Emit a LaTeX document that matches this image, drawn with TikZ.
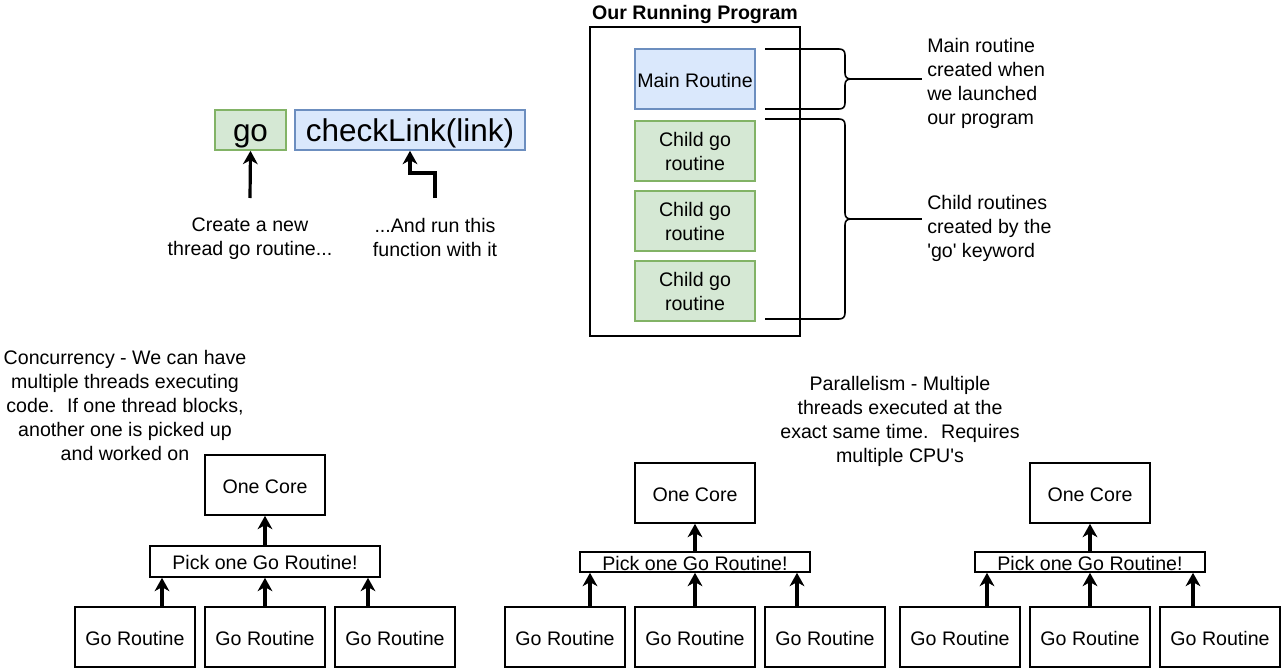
\documentclass[tikz,border=0pt]{standalone}
\usepackage{fontspec}
\setmainfont{Liberation Sans}
\usetikzlibrary{arrows.meta,calc}

\definecolor{gofill}{HTML}{D5E8D4}
\definecolor{godraw}{HTML}{82B366}
\definecolor{fnfill}{HTML}{DAE8FC}
\definecolor{fndraw}{HTML}{6C8EBF}

\begin{document}
\begin{tikzpicture}[x=0.75pt,y=-0.75pt,
    font=\fontsize{14.7}{18}\selectfont,
    box/.style={draw=black,line width=1.2pt,minimum width=90pt,minimum height=45pt,inner sep=0pt,align=center},
    oneline/.style={text height=16.6pt,text depth=4pt},
    bigline/.style={text height=23.6pt,text depth=6pt,font=\fontsize{23.6}{28}\selectfont},
    gobox/.style={box,fill=gofill,draw=godraw},
    fnbox/.style={box,fill=fnfill,draw=fndraw},
    pickbox/.style={draw=black,line width=1.2pt,minimum width=172.5pt,inner sep=0pt,oneline},
    note/.style={align=center,inner sep=0pt},
    arr/.style={-{Stealth[length=10pt,width=11pt,inset=3pt]},line width=2.4pt},
    brace/.style={line width=1.2pt}]

    \useasboundingbox (0,0) rectangle (1282,668);

    % go checkLink(link)
    \node[gobox,bigline,minimum width=53.25pt,minimum height=30pt] (go) at (250.5,130) {go};
    \node[fnbox,bigline,minimum width=172.5pt,minimum height=30pt] (check) at (410,130) {checkLink(link)};

    \node[note] (createnote) at (250,239) {Create a new\\thread go routine...};
    \node[note] (runnote) at (435,237) {...And run this\\function with it};
    \coordinate (gotail) at (250,198);
    \coordinate (runtail) at (435,198);

    \draw[arr] (gotail) -- (go.south);
    \draw[arr] (runtail) -- ++(0,-25) -| (check.south);

    % our running program
    \node[note,font=\fontsize{14.7}{18}\selectfont\bfseries] (title) at (695,14) {Our Running Program};
    \node[draw=black,line width=1.2pt,minimum width=157.5pt,minimum height=231.75pt,inner sep=0pt] (program) at (695,181.5) {};

    \node[fnbox,oneline] (main) at (695,79) {Main Routine};
    \node[gobox] (childa) at (695,151) {Child go\\routine};
    \node[gobox] (childb) at (695,221) {Child go\\routine};
    \node[gobox] (childc) at (695,291) {Child go\\routine};

    \node[anchor=west,align=left,inner sep=0pt] (mainnote) at (927,83) {Main routine\\created when\\we launched\\our program};
    \node[anchor=west,align=left,inner sep=0pt] (childnote) at (927,228) {Child routines\\created by the\\\textquotesingle go\textquotesingle{} keyword};

    \coordinate (maintip) at (851,79);
    \coordinate (childtip) at (851,219);
    \draw[brace] (765,49) -- (839,49) .. controls (843,49) and (845,51) .. (845,55)
        -- (845,73) .. controls (845,77) and (847,79) .. (maintip)
        .. controls (847,79) and (845,81) .. (845,85)
        -- (845,103) .. controls (845,107) and (843,109) .. (839,109) -- (765,109);
    \draw[brace] (765,119) -- (839,119) .. controls (843,119) and (845,121) .. (845,125)
        -- (845,213) .. controls (845,217) and (847,219) .. (childtip)
        .. controls (847,219) and (845,221) .. (845,225)
        -- (845,313) .. controls (845,317) and (843,319) .. (839,319) -- (765,319);
    \draw[brace,shorten >=3.5pt] (maintip) -- (maintip -| mainnote.west);
    \draw[brace,shorten >=3.5pt] (childtip) -- (childtip -| childnote.west);

    % concurrency
    \node[note] (concnote) at (125,405) {Concurrency - We can have\\multiple threads executing\\code.~ If one thread blocks,\\another one is picked up\\and worked on};
    \node[box,oneline] (core) at (265,485) {One Core};
    \node[pickbox,minimum height=23.25pt] (pick) at (265,561.5) {Pick one Go Routine!};
    \node[box,oneline] (ga) at (135,637) {Go Routine};
    \node[box,oneline] (gb) at (265,637) {Go Routine};
    \node[box,oneline] (gc) at (395,637) {Go Routine};

    \coordinate (gatail) at ($(ga.north)+(27,0)$);
    \coordinate (gctail) at ($(gc.north)+(-27,0)$);
    \draw[arr] (pick.north) -- (core.south);
    \draw[arr] (gatail) -- (gatail |- pick.south);
    \draw[arr] (gb.north) -- (pick.south);
    \draw[arr] (gctail) -- (gctail |- pick.south);

    % parallelism
    \node[note] (parnote) at (900,421) {Parallelism - Multiple\\threads executed at the\\exact same time.~ Requires\\multiple CPU\textquotesingle s};

    \node[box,oneline] (corel) at (695,493) {One Core};
    \node[pickbox,minimum height=15pt,inner ysep=-2.8pt] (pickl) at (695,562) {Pick one Go Routine!};
    \node[box,oneline] (gla) at (565,637) {Go Routine};
    \node[box,oneline] (glb) at (695,637) {Go Routine};
    \node[box,oneline] (glc) at (825,637) {Go Routine};

    \coordinate (glatail) at ($(gla.north)+(25,0)$);
    \coordinate (glctail) at ($(glc.north)+(-28,0)$);
    \draw[arr] (pickl.north) -- (corel.south);
    \draw[arr] (glatail) -- (glatail |- pickl.south);
    \draw[arr] (glb.north) -- (pickl.south);
    \draw[arr] (glctail) -- (glctail |- pickl.south);

    \node[box,oneline] (corer) at (1090,493) {One Core};
    \node[pickbox,minimum height=15pt,inner ysep=-2.8pt] (pickr) at (1090,562) {Pick one Go Routine!};
    \node[box,oneline] (gra) at (960,637) {Go Routine};
    \node[box,oneline] (grb) at (1090,637) {Go Routine};
    \node[box,oneline] (grc) at (1220,637) {Go Routine};

    \coordinate (gratail) at ($(gra.north)+(27,0)$);
    \coordinate (grctail) at ($(grc.north)+(-27,0)$);
    \draw[arr] (pickr.north) -- (corer.south);
    \draw[arr] (gratail) -- (gratail |- pickr.south);
    \draw[arr] (grb.north) -- (pickr.south);
    \draw[arr] (grctail) -- (grctail |- pickr.south);

\end{tikzpicture}
\end{document}
